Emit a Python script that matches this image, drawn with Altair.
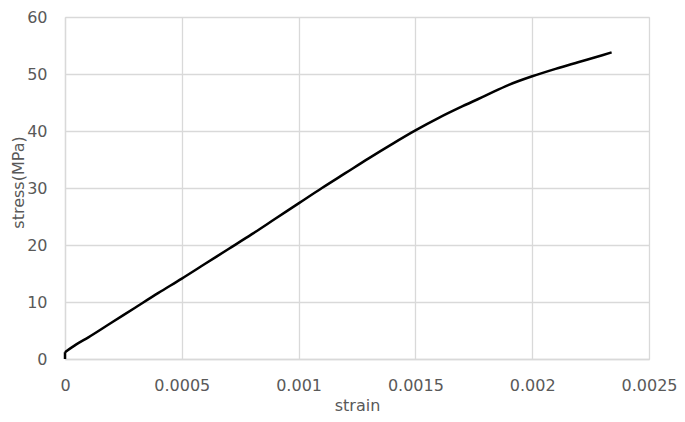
import altair as alt
import pandas as pd

strain = [0.0, 0.0, 0.00005, 0.0001, 0.0002, 0.0003, 0.0004, 0.0005, 0.0006, 0.0007,
          0.0008, 0.0009, 0.001, 0.0011, 0.0012, 0.0013, 0.0014, 0.0015, 0.0016,
          0.0017, 0.0018, 0.0019, 0.002, 0.0021, 0.0022, 0.0023, 0.00234]
stress = [0.0, 1.2, 2.6, 3.8, 6.4, 9.0, 11.6, 14.1, 16.7, 19.3,
          21.9, 24.6, 27.3, 30.0, 32.6, 35.2, 37.7, 40.1, 42.3,
          44.3, 46.2, 48.1, 49.6, 50.9, 52.1, 53.3, 53.8]
x_ticks = [0, 0.0005, 0.001, 0.0015, 0.002, 0.0025]
y_ticks = [0, 10, 20, 30, 40, 50, 60]

df = pd.DataFrame({"strain": strain, "stress": stress, "order": list(range(len(strain)))})
df_start = df.iloc[:2]
df_main = df.iloc[1:]

FONT = "DejaVu Sans"
LBL = "#595959"
GRID = "#d9d9d9"

x_enc = alt.X("strain:Q", scale=alt.Scale(domain=[0, 0.0025], nice=False, zero=False),
              axis=alt.Axis(values=x_ticks, title="strain", grid=True, gridColor=GRID,
                            gridWidth=1.3, domain=True, domainColor=GRID, domainWidth=1.3,
                            ticks=False, labelPadding=18, labelFont=FONT, labelFontSize=16,
                            labelColor=LBL,
                            labelExpr="datum.value == 0 ? '0' : format(datum.value, '~g')",
                            labelFlush=False,
                            titleFont=FONT, titleFontSize=16, titleFontWeight="normal",
                            titleColor=LBL, titleY=46, titleBaseline="middle"))
y_enc = alt.Y("stress:Q", scale=alt.Scale(domain=[0, 60], nice=False),
              axis=alt.Axis(values=y_ticks, title="stress(MPa)", grid=True, gridColor=GRID,
                            gridWidth=1.3, domain=True, domainColor=GRID, domainWidth=1.3,
                            ticks=False, labelPadding=18, labelFont=FONT, labelFontSize=16,
                            labelColor=LBL, labelFlush=False,
                            titleFont=FONT, titleFontSize=16, titleFontWeight="normal",
                            titleColor=LBL, titleX=-47, titleY=165, titleAngle=-90,
                            titleAlign="center", titleBaseline="middle"))

start = alt.Chart(df_start).mark_line(color="#000000", strokeWidth=2.5).encode(
    x=x_enc, y=y_enc, order="order:Q")
main = alt.Chart(df_main).mark_line(color="#000000", strokeWidth=2.5,
                                    interpolate="monotone").encode(
    x=x_enc, y=y_enc, order="order:Q")

chart = alt.layer(start, main).properties(
    width=584, height=342,
    autosize=alt.AutoSizeParams(type="none"),
    padding={"left": 57, "top": 9, "right": 28, "bottom": 55},
).configure_view(stroke=GRID, strokeWidth=1.3).configure(background="white")

chart.save("out.html", embed_options={"renderer": "svg", "actions": False})
